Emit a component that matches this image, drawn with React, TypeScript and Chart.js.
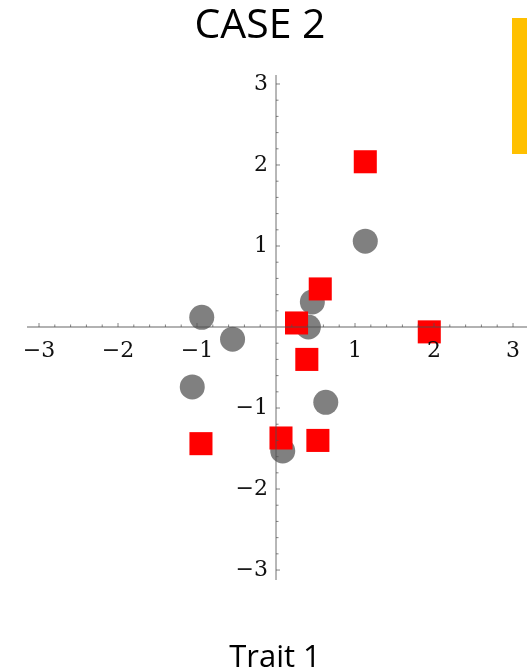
import { useEffect, useRef } from 'react';
import { Chart, registerables } from 'chart.js';

Chart.register(...registerables);

// ---- data ----
const chartTitle = 'CASE 2';
const xAxisTitle = 'Trait 1';
const majorTickValues = [-3, -2, -1, 1, 2, 3];
const majorTickLabels = ['−3', '−2', '−1', '1', '2', '3'];
const xRange = [-3.152, 3.177];
const yRange = [-3.123, 3.111];

const circleX = [1.13, -0.94, -0.55, 0.46, 0.41, -1.06, 0.63, 0.085];
const circleY = [1.06, 0.12, -0.15, 0.31, 0.0, -0.74, -0.93, -1.53];

const squareX = [1.13, 0.56, 0.26, 1.94, 0.39, -0.95, 0.063, 0.53];
const squareY = [2.04, 0.47, 0.05, -0.06, -0.4, -1.44, -1.37, -1.4];

const W = 527;
const H = 671;

const decorPlugin = {
  id: 'decor',
  beforeDraw(chart: any) {
    const ctx = chart.ctx;
    ctx.save();
    ctx.fillStyle = '#ffffff';
    ctx.fillRect(0, 0, W, H);
    // yellow side bar
    ctx.fillStyle = '#FFC000';
    ctx.fillRect(512, 18, 15, 136);
    ctx.restore();
  },
  afterDatasetsDraw(chart: any) {
    const ctx = chart.ctx;
    const xs = chart.scales.x;
    const ys = chart.scales.y;
    const area = chart.chartArea;
    const x0 = xs.getPixelForValue(0);
    const y0 = ys.getPixelForValue(0);
    ctx.save();
    ctx.strokeStyle = 'rgba(80,80,80,0.58)';
    ctx.lineWidth = 1.4;
    ctx.beginPath();
    ctx.moveTo(area.left, y0);
    ctx.lineTo(area.right, y0);
    ctx.moveTo(x0, area.top);
    ctx.lineTo(x0, area.bottom);
    ctx.stroke();

    // ticks (major every 1, minor every 0.2)
    ctx.lineWidth = 1;
    ctx.strokeStyle = 'rgba(80,80,80,0.7)';
    ctx.beginPath();
    for (let k = -15; k <= 15; k++) {
      if (k === 0) continue;
      const v = k * 0.2;
      const len = k % 5 === 0 ? 4 : 2.5;
      const px = xs.getPixelForValue(v);
      if (px >= area.left && px <= area.right) {
        ctx.moveTo(px, y0);
        ctx.lineTo(px, y0 - len);
      }
      const py = ys.getPixelForValue(v);
      if (py >= area.top && py <= area.bottom) {
        ctx.moveTo(x0, py);
        ctx.lineTo(x0 + len, py);
      }
    }
    ctx.stroke();

    // tick labels
    ctx.fillStyle = '#111111';
    ctx.font = '22px "DejaVu Serif"';
    ctx.textBaseline = 'middle';
    ctx.textAlign = 'center';
    majorTickValues.forEach((v, i) => {
      ctx.fillText(majorTickLabels[i], xs.getPixelForValue(v), y0 + 24);
    });
    ctx.textAlign = 'right';
    majorTickValues.forEach((v, i) => {
      ctx.fillText(majorTickLabels[i], x0 - 8, ys.getPixelForValue(v));
    });
    ctx.restore();
  },
  afterDraw(chart: any) {
    const ctx = chart.ctx;
    ctx.save();
    ctx.fillStyle = '#000000';
    ctx.textAlign = 'center';
    ctx.textBaseline = 'alphabetic';
    ctx.font = '41px "Open Sans"';
    ctx.fillText(chartTitle, 260, 38);
    ctx.font = '31px "Open Sans"';
    ctx.fillText(xAxisTitle, 275, 667);
    ctx.restore();
  },
};

export default function App() {
  const ref = useRef<HTMLCanvasElement | null>(null);

  useEffect(() => {
    if (!ref.current) return;
    const chart = new Chart(ref.current, {
      type: 'scatter',
      data: {
        datasets: [
          {
            label: 'squares',
            data: squareX.map((x, i) => ({ x, y: squareY[i] })),
            pointStyle: 'rect',
            pointRadius: 16.3,
            pointBackgroundColor: '#ff0000',
            pointBorderWidth: 0,
            borderWidth: 0,
            backgroundColor: '#ff0000',
          },
          {
            label: 'circles',
            data: circleX.map((x, i) => ({ x, y: circleY[i] })),
            pointStyle: 'circle',
            pointRadius: 12.5,
            pointBackgroundColor: '#808080',
            pointBorderWidth: 0,
            borderWidth: 0,
            backgroundColor: '#808080',
          },
        ],
      },
      options: {
        animation: false,
        responsive: false,
        maintainAspectRatio: false,
        devicePixelRatio: 1,
        layout: { autoPadding: false, padding: { left: 27, right: 0, top: 75, bottom: 91 } },
        plugins: {
          legend: { display: false },
          title: { display: false },
          tooltip: { enabled: false },
        },
        scales: {
          x: { type: 'linear', display: false, min: xRange[0], max: xRange[1] },
          y: { type: 'linear', display: false, min: yRange[0], max: yRange[1] },
        },
        clip: false,
      } as any,
      plugins: [decorPlugin],
    });
    return () => chart.destroy();
  }, []);

  return (
    <div style={{ position: 'fixed', left: 0, top: 0, width: W, height: H, background: '#fff' }}>
      <canvas ref={ref} width={W} height={H} style={{ width: W, height: H, display: 'block' }} />
    </div>
  );
}
